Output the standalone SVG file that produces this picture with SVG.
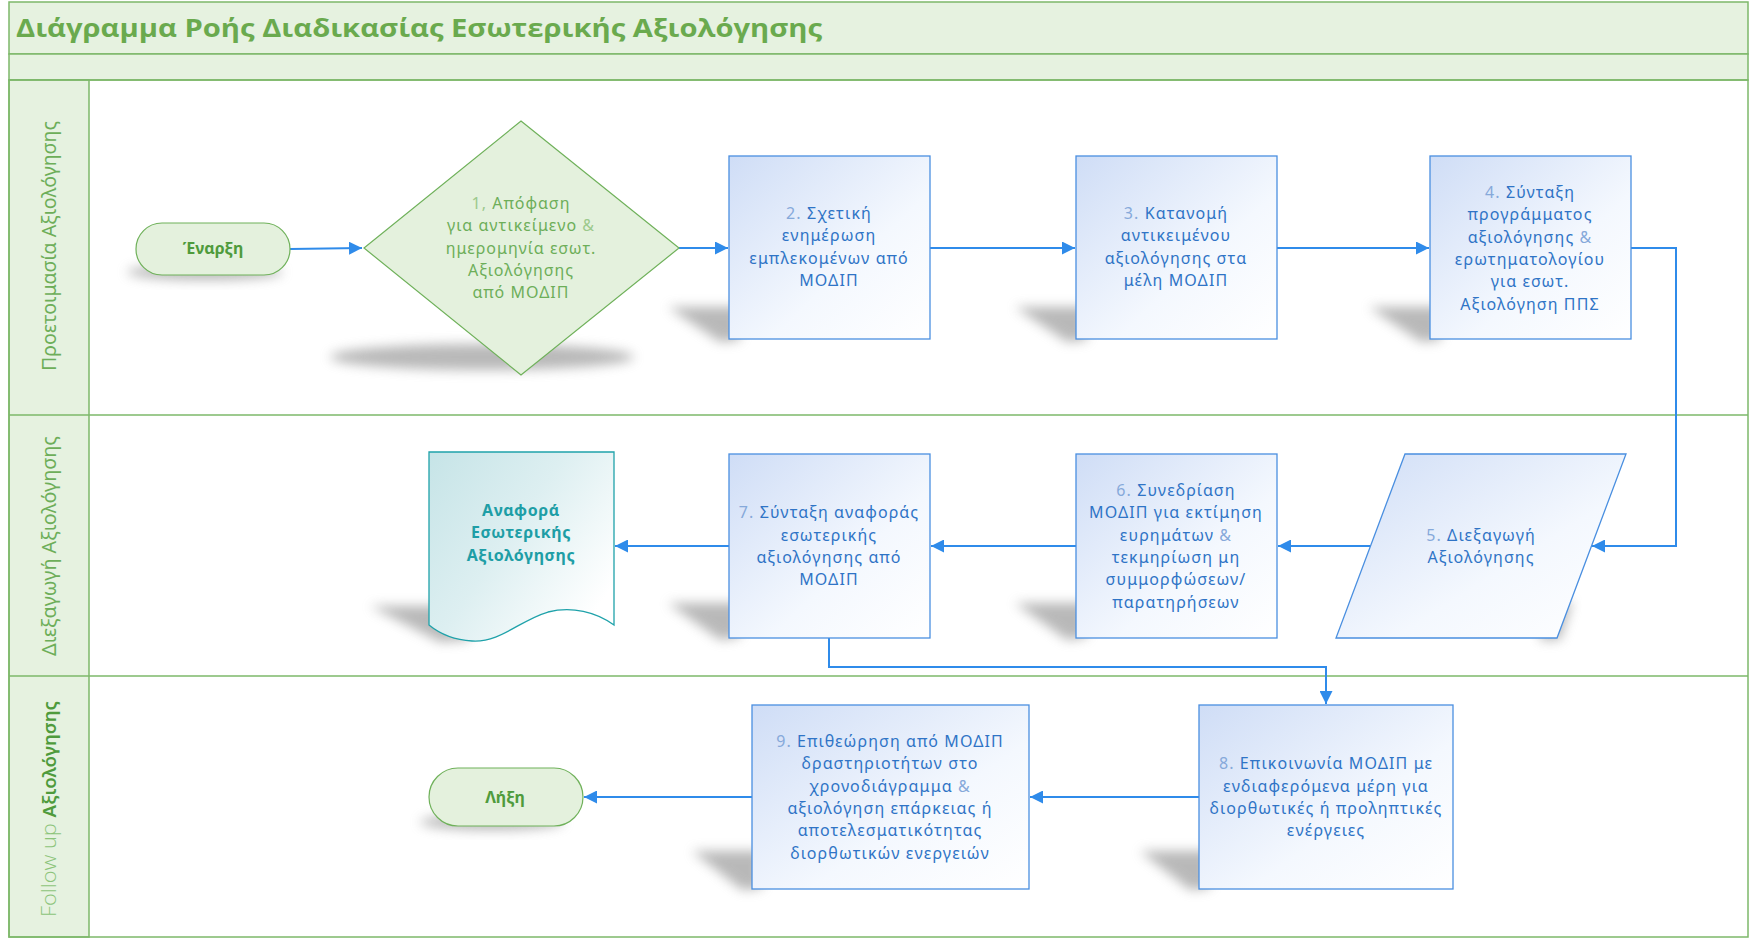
<svg xmlns="http://www.w3.org/2000/svg" width="1750" height="940" viewBox="0 0 1750 940">
<style>
.lane{fill:none;stroke:#7DB86A;stroke-width:1.5}
.band{fill:#E6F2E0;stroke:#7DB86A;stroke-width:1.5}
.lbl{font-family:"Noto Sans","Open Sans",sans-serif;font-size:19px;fill:#6DAE59;text-anchor:middle}
.box{fill:url(#gBox);stroke:#4A8FE0;stroke-width:1.3}
.green{fill:#E4F1DD;stroke:#6FB15A;stroke-width:1.2}
.doc{fill:url(#gDoc);stroke:#1FA2AA;stroke-width:1.3}
.t{font-family:"Noto Sans","Open Sans",sans-serif;font-size:16px;fill:#2F74C6;text-anchor:middle;letter-spacing:1.1px}
.n{fill:#86A9DA}
.gt{font-family:"Noto Sans","Open Sans",sans-serif;font-size:16px;fill:#6DAE59;text-anchor:middle;letter-spacing:1px}
.gb{font-family:"Noto Sans","Open Sans",sans-serif;font-size:16px;fill:#4F9B3C;font-weight:bold;text-anchor:middle}
.dt{font-family:"Noto Sans","Open Sans",sans-serif;font-size:16px;fill:#1E9EA6;font-weight:bold;text-anchor:middle;letter-spacing:0.6px}
.c{fill:none;stroke:#2F8BEA;stroke-width:2;marker-end:url(#ah)}
.sh{fill:#8a8a8a;opacity:0.6;filter:url(#blur)}
</style>
<defs>
<linearGradient id="gBox" x1="0" y1="0" x2="1" y2="1">
<stop offset="0" stop-color="#CFDDF6"/>
<stop offset="0.6" stop-color="#F4F8FE"/>
<stop offset="1" stop-color="#FFFFFF"/>
</linearGradient>
<linearGradient id="gDoc" x1="0" y1="0" x2="1" y2="0.7">
<stop offset="0" stop-color="#C6E4E7"/>
<stop offset="0.5" stop-color="#DDEFF1"/>
<stop offset="1" stop-color="#FFFFFF"/>
</linearGradient>
<filter id="blur" x="-30%" y="-60%" width="160%" height="220%">
<feGaussianBlur stdDeviation="6"/>
</filter>
<marker id="ah" viewBox="0 0 10 10" refX="10" refY="5" markerWidth="13" markerHeight="13" markerUnits="userSpaceOnUse" orient="auto">
<path d="M0,0 L10,5 L0,10 Z" fill="#2F8BEA"/>
</marker>
</defs>

<rect x="0" y="0" width="1750" height="940" fill="#FFFFFF"/>

<g id="frame">
<rect class="band" x="9" y="2" width="1739" height="52"/>
<rect class="band" x="9" y="54" width="1739" height="26"/>
<text x="16" y="37" font-family="'Open Sans','Noto Sans',sans-serif" font-size="25" font-weight="bold" fill="#6AAA4E" textLength="806" lengthAdjust="spacingAndGlyphs">Διάγραμμα Ροής Διαδικασίας Εσωτερικής Αξιολόγησης</text>
<rect class="band" x="9" y="80" width="80" height="857"/>
<rect class="lane" x="9" y="80" width="1739" height="857"/>
<line class="lane" x1="9" y1="415" x2="1748" y2="415"/>
<line class="lane" x1="9" y1="676" x2="1748" y2="676"/>
</g>

<g id="lane1-label"><text class="lbl" transform="translate(56,246) rotate(-90)" textLength="250" lengthAdjust="spacingAndGlyphs">Προετοιμασία Αξιολόγησης</text></g>
<g id="lane2-label"><text class="lbl" transform="translate(56,546) rotate(-90)" textLength="220" lengthAdjust="spacingAndGlyphs">Διεξαγωγή Αξιολόγησης</text></g>
<g id="lane3-label"><text class="lbl" transform="translate(56,809) rotate(-90)" textLength="216" lengthAdjust="spacingAndGlyphs"><tspan fill="#8CC47A" font-weight="300" font-family="'Open Sans',sans-serif" font-size="21">Follow up </tspan><tspan fill="#4F9B3C" font-weight="600" font-size="18">Αξιολόγησης</tspan></text></g>

<g id="shadows">
<ellipse class="sh" cx="205" cy="272" rx="78" ry="8"/>
<ellipse class="sh" cx="482" cy="357" rx="152" ry="13"/>
<polygon class="sh" points="668,307 740,307 740,340 720,342"/>
<polygon class="sh" points="1015,307 1087,307 1087,340 1067,342"/>
<polygon class="sh" points="1369,307 1441,307 1441,340 1421,342"/>
<polygon class="sh" points="1540,602 1572,602 1560,640 1540,640"/>
<polygon class="sh" points="1015,603 1087,603 1087,637 1067,640"/>
<polygon class="sh" points="668,603 740,603 740,637 720,640"/>
<polygon class="sh" points="370,606 460,606 470,640 440,642"/>
<polygon class="sh" points="1140,851 1210,851 1210,888 1190,890"/>
<polygon class="sh" points="692,851 762,851 762,888 742,890"/>
<ellipse class="sh" cx="492" cy="822" rx="72" ry="8"/>
</g>

<g id="connectors">
<path class="c" d="M290,249 L362,248"/>
<path class="c" d="M679,248 L728,248"/>
<path class="c" d="M930,248 L1075,248"/>
<path class="c" d="M1277,248 L1429,248"/>
<path class="c" d="M1631,248 L1676,248 L1676,546 L1592,546"/>
<path class="c" d="M1371,546 L1278,546"/>
<path class="c" d="M1076,546 L931,546"/>
<path class="c" d="M729,546 L615,546"/>
<path class="c" d="M829,638 L829,667 L1326,667 L1326,704"/>
<path class="c" d="M1199,797 L1030,797"/>
<path class="c" d="M752,797 L584,797"/>
</g>

<g id="start">
<rect class="green" x="136" y="223" width="154" height="52" rx="26"/>
<text class="gb" x="213" y="254">Έναρξη</text>
</g>

<g id="n1">
<polygon class="green" points="521,121 679,248 521,375 364,248"/>
<text class="gt" x="521" y="209"><tspan fill="#9CC98C">1, </tspan>Απόφαση</text>
<text class="gt" x="521" y="231">για αντικείμενο <tspan fill="#9CC98C">&amp;</tspan></text>
<text class="gt" x="521" y="254">ημερομηνία εσωτ.</text>
<text class="gt" x="521" y="276">Αξιολόγησης</text>
<text class="gt" x="521" y="298">από ΜΟΔΙΠ</text>
</g>

<g id="n2">
<rect class="box" x="729" y="156" width="201" height="183"/>
<text class="t" x="829" y="219"><tspan class="n">2. </tspan>Σχετική</text>
<text class="t" x="829" y="241">ενημέρωση</text>
<text class="t" x="829" y="264">εμπλεκομένων από</text>
<text class="t" x="829" y="286">ΜΟΔΙΠ</text>
</g>

<g id="n3">
<rect class="box" x="1076" y="156" width="201" height="183"/>
<text class="t" x="1176" y="219"><tspan class="n">3. </tspan>Κατανομή</text>
<text class="t" x="1176" y="241">αντικειμένου</text>
<text class="t" x="1176" y="264">αξιολόγησης στα</text>
<text class="t" x="1176" y="286">μέλη ΜΟΔΙΠ</text>
</g>

<g id="n4">
<rect class="box" x="1430" y="156" width="201" height="183"/>
<text class="t" x="1530" y="198"><tspan class="n">4. </tspan>Σύνταξη</text>
<text class="t" x="1530" y="220">προγράμματος</text>
<text class="t" x="1530" y="243">αξιολόγησης <tspan class="n">&amp;</tspan></text>
<text class="t" x="1530" y="265">ερωτηματολογίου</text>
<text class="t" x="1530" y="287">για εσωτ.</text>
<text class="t" x="1530" y="310">Αξιολόγηση ΠΠΣ</text>
</g>

<g id="n5">
<polygon class="box" points="1405,454 1626,454 1557,638 1336,638"/>
<text class="t" x="1481" y="541"><tspan class="n">5. </tspan>Διεξαγωγή</text>
<text class="t" x="1481" y="563">Αξιολόγησης</text>
</g>

<g id="n6">
<rect class="box" x="1076" y="454" width="201" height="184"/>
<text class="t" x="1176" y="496"><tspan class="n">6. </tspan>Συνεδρίαση</text>
<text class="t" x="1176" y="518">ΜΟΔΙΠ για εκτίμηση</text>
<text class="t" x="1176" y="541">ευρημάτων <tspan class="n">&amp;</tspan></text>
<text class="t" x="1176" y="563">τεκμηρίωση μη</text>
<text class="t" x="1176" y="585">συμμορφώσεων/</text>
<text class="t" x="1176" y="608">παρατηρήσεων</text>
</g>

<g id="n7">
<rect class="box" x="729" y="454" width="201" height="184"/>
<text class="t" x="829" y="518"><tspan class="n">7. </tspan>Σύνταξη αναφοράς</text>
<text class="t" x="829" y="541">εσωτερικής</text>
<text class="t" x="829" y="563">αξιολόγησης από</text>
<text class="t" x="829" y="585">ΜΟΔΙΠ</text>
</g>

<g id="report">
<path class="doc" d="M429,452 H614 V625 C596,612 572,606 548,612 C520,620 500,643 472,641 C455,640 440,634 429,625 Z"/>
<text class="dt" x="521" y="516">Αναφορά</text>
<text class="dt" x="521" y="538">Εσωτερικής</text>
<text class="dt" x="521" y="561">Αξιολόγησης</text>
</g>

<g id="n8">
<rect class="box" x="1199" y="705" width="254" height="184"/>
<text class="t" x="1326" y="769"><tspan class="n">8. </tspan>Επικοινωνία ΜΟΔΙΠ με</text>
<text class="t" x="1326" y="792">ενδιαφερόμενα μέρη για</text>
<text class="t" x="1326" y="814">διορθωτικές ή προληπτικές</text>
<text class="t" x="1326" y="836">ενέργειες</text>
</g>

<g id="n9">
<rect class="box" x="752" y="705" width="277" height="184"/>
<text class="t" x="890" y="747"><tspan class="n">9. </tspan>Επιθεώρηση από ΜΟΔΙΠ</text>
<text class="t" x="890" y="769">δραστηριοτήτων στο</text>
<text class="t" x="890" y="792">χρονοδιάγραμμα <tspan class="n">&amp;</tspan></text>
<text class="t" x="890" y="814">αξιολόγηση επάρκειας ή</text>
<text class="t" x="890" y="836">αποτελεσματικότητας</text>
<text class="t" x="890" y="859">διορθωτικών ενεργειών</text>
</g>

<g id="end">
<rect class="green" x="429" y="768" width="154" height="58" rx="29"/>
<text class="gb" x="505" y="803">Λήξη</text>
</g>
</svg>
